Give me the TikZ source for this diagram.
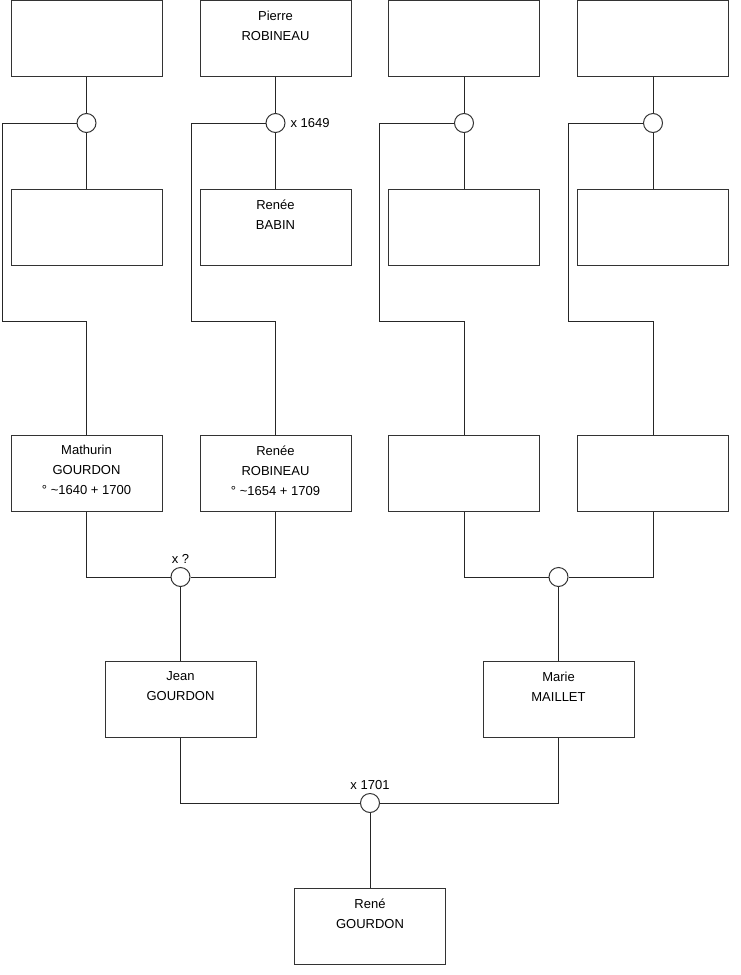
\documentclass[tikz,border=0pt]{standalone}
\usepackage{fontspec}
\setmainfont{Liberation Sans}
\usetikzlibrary{calc}
\begin{document}
\begin{tikzpicture}[x=1pt,y=-1pt,line width=1pt,
  person/.style={draw=black!80,rectangle,minimum width=151pt,minimum height=76pt,inner sep=0pt,fill=white},
  union/.style={draw=black!80,circle,minimum size=19pt,inner sep=0pt,fill=white},
  link/.style={draw=black!85},
  names/.style={font=\fontsize{13}{20}\selectfont,align=center,inner sep=0pt,anchor=north},
  wed/.style={font=\fontsize{13}{15}\selectfont,inner sep=0pt}]
\useasboundingbox (0,0) rectangle (740,975);
% row 1
\node[person] (t1) at (86.5,38.5) {};
\node[person] (t2) at (275.5,38.5) {};
\node[person] (t3) at (464,38.5) {};
\node[person] (t4) at (653,38.5) {};
% row 2
\node[person] (b1) at (86.5,227) {};
\node[person] (b2) at (275.5,227) {};
\node[person] (b3) at (464,227) {};
\node[person] (b4) at (653,227) {};
% row 3
\node[person] (m1) at (86.5,473) {};
\node[person] (m2) at (275.5,473) {};
\node[person] (m3) at (464,473) {};
\node[person] (m4) at (653,473) {};
% row 4
\node[person] (jean) at (180.5,699.5) {};
\node[person] (marie) at (558.5,699.5) {};
% row 5
\node[person] (rene) at (370,926) {};
% unions
\node[union] (c1) at (86.5,123) {};
\node[union] (c2) at (275.5,123) {};
\node[union] (c3) at (464,123) {};
\node[union] (c4) at (653,123) {};
\node[union] (c5) at (180.5,577) {};
\node[union] (c6) at (558.5,577) {};
\node[union] (c7) at (370,803) {};
% bends
\coordinate (k1) at (2,321);
\coordinate (k2) at (191,321);
\coordinate (k3) at (379,321);
\coordinate (k4) at (568,321);
% connectors
\foreach \i in {1,2,3,4}{
  \draw[link] (t\i) -- (c\i);
  \draw[link] (c\i) -- (b\i);
  \draw[link] (c\i.west) -| (k\i) -| (m\i.north);
}
\draw[link] (m1.south) |- (c5.west);
\draw[link] (m2.south) |- (c5.east);
\draw[link] (c5) -- (jean);
\draw[link] (m3.south) |- (c6.west);
\draw[link] (m4.south) |- (c6.east);
\draw[link] (c6) -- (marie);
\draw[link] (jean.south) |- (c7.west);
\draw[link] (marie.south) |- (c7.east);
\draw[link] (c7) -- (rene);
% names
\node[names] (n2) at ($(t2.north)+(0,10.5)$) {Pierre\\ROBINEAU};
\node[names] (nb2) at ($(b2.north)+(0,10.5)$) {Renée\\BABIN};
\node[names] (nm1) at ($(m1.north)+(0,10.5)$) {Mathurin\\GOURDON\\° \textasciitilde1640 + 1700};
\node[names] (nm2) at ($(m2.north)+(0,10.5)$) {Renée\\ROBINEAU\\° \textasciitilde1654 + 1709};
\node[names] (nj) at ($(jean.north)+(0,10.5)$) {Jean\\GOURDON};
\node[names] (nma) at ($(marie.north)+(0,10.5)$) {Marie\\MAILLET};
\node[names] (nr) at ($(rene.north)+(0,10.5)$) {René\\GOURDON};
% marriage labels
\node[wed,anchor=west] (w2) at ($(c2.east)+(4.5,0)$) {x 1649};
\node[wed,anchor=base] (w5) at ($(c5.north)+(0,-3.5)$) {x ?};
\node[wed,anchor=base] (w7) at ($(c7.north)+(0,-3.5)$) {x 1701};
\end{tikzpicture}
\end{document}
